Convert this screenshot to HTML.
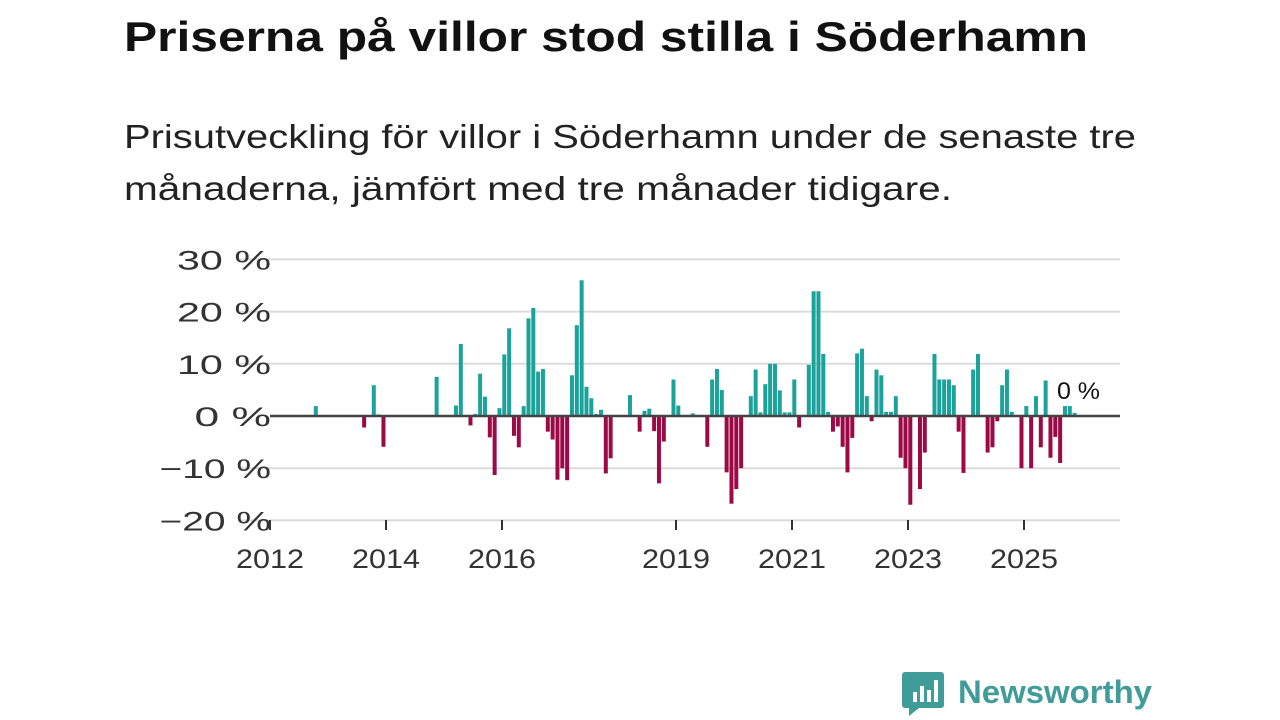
<!DOCTYPE html>
<html><head><meta charset="utf-8"><style>
html,body{margin:0;padding:0;background:#fff;}
svg{display:block;font-family:"Liberation Sans","DejaVu Sans",sans-serif;}
</style></head><body>
<svg id="chart" width="1280" height="720" viewBox="0 0 1280 720" xmlns="http://www.w3.org/2000/svg">
<text x="124" y="51" font-size="42" font-weight="bold" fill="#111" textLength="964" lengthAdjust="spacingAndGlyphs">Priserna på villor stod stilla i Söderhamn</text>
<text x="124" y="148" font-size="33" fill="#222" textLength="1012" lengthAdjust="spacingAndGlyphs">Prisutveckling för villor i Söderhamn under de senaste tre</text>
<text x="124" y="200" font-size="33" fill="#222" textLength="828" lengthAdjust="spacingAndGlyphs">månaderna, jämfört med tre månader tidigare.</text>
<g id="grid"></g>
<g id="bars"></g>
<g id="axes"></g>
<text x="1057" y="399" font-size="24" fill="#111" textLength="43" lengthAdjust="spacingAndGlyphs">0 %</text>
<g>
<path d="M905 672 h36 a3 3 0 0 1 3 3 v30 a3 3 0 0 1 -3 3 h-22 l-10 8 v-8 h-4 a3 3 0 0 1 -3 -3 v-30 a3 3 0 0 1 3 -3z" fill="#3f9c98"/>
<rect x="913" y="692" width="4" height="10" fill="#fff"/><rect x="920" y="686" width="4" height="16" fill="#fff"/><rect x="927" y="690" width="4" height="12" fill="#fff"/><rect x="934" y="680" width="4" height="22" fill="#fff"/>
<text x="958" y="703" font-size="32" font-weight="bold" fill="#3f9c98" textLength="194" lengthAdjust="spacingAndGlyphs">Newsworthy</text>
</g>
</svg>
<script>
const dates = ["2012-10","2013-08","2013-10","2013-11","2013-12","2014-11","2015-03","2015-04","2015-06","2015-07","2015-08","2015-09","2015-10","2015-11","2015-12",
"2016-01","2016-02","2016-03","2016-04","2016-05","2016-06","2016-07","2016-08","2016-09","2016-10","2016-11","2016-12",
"2017-01","2017-02","2017-03","2017-04","2017-05","2017-06","2017-07","2017-08","2017-09","2017-10","2017-11",
"2018-03","2018-05","2018-06","2018-07","2018-08","2018-09","2018-10","2018-12",
"2019-01","2019-04","2019-07","2019-08","2019-09","2019-10","2019-11","2019-12",
"2020-01","2020-02","2020-04","2020-05","2020-06","2020-07","2020-08","2020-09","2020-10","2020-11","2020-12",
"2021-01","2021-02","2021-04","2021-05","2021-06","2021-07","2021-08","2021-09","2021-10","2021-11","2021-12",
"2022-01","2022-02","2022-03","2022-04","2022-05","2022-06","2022-07","2022-08","2022-09","2022-10","2022-11","2022-12",
"2023-01","2023-03","2023-04","2023-06","2023-07","2023-08","2023-09","2023-10","2023-11","2023-12",
"2024-02","2024-03","2024-05","2024-06","2024-07","2024-08","2024-09","2024-10","2024-12",
"2025-01","2025-02","2025-03","2025-04","2025-05","2025-06","2025-07","2025-08","2025-09","2025-10","2025-11"];
const values = [1.9,-2.2,5.9,0.3,-5.9,7.5,2,13.8,-1.8,0.4,8.1,3.7,-4.1,-11.3,1.5,
11.8,16.8,-3.8,-6,1.9,18.7,20.7,8.5,9,-3,-4.5,-12.2,
-10,-12.3,7.8,17.4,26,5.6,3.4,0.4,1.2,-11,-8.1,
4,-3,1,1.4,-2.9,-12.9,-4.9,7,
2,0.5,-5.9,7,9,5,-10.8,-16.8,
-14,-10,3.8,8.9,0.7,6.1,10,10,4.9,0.7,0.7,
7,-2.2,9.8,23.9,23.9,11.9,0.8,-3,-2,-5.9,-10.8,
-4.2,12,12.9,3.8,-1,8.9,7.8,0.8,0.8,3.8,-8,-10,
-17,-14,-7,11.9,7,7,7,5.9,-3,-10.9,
8.9,11.9,-7,-6,-1,5.9,8.9,0.8,-10,
1.9,-10,3.8,-6,6.8,-8,-4,-9,1.9,1.9,0.6];
const yTicks = [30,20,10,0,-10,-20];
const yTickLabels = ["30 %","20 %","10 %","0 %","\u221210 %","\u221220 %"];
const xTicks = [2012,2014,2016,2019,2021,2023,2025];

const NS="http://www.w3.org/2000/svg";
const X0=270, PXY=58, Y0=416, PXV=5.22;
function xScale(yearFrac){return X0+(yearFrac-2012)*PXY;}
function yScale(v){return Y0-v*PXV;}
function dateToYear(d){const p=d.split("-");return +p[0]+(+p[1]-1)/12;}
function mk(tag,attrs,parent){const e=document.createElementNS(NS,tag);for(const k in attrs)e.setAttribute(k,attrs[k]);parent.appendChild(e);return e;}
const grid=document.getElementById("grid"),bars=document.getElementById("bars"),axes=document.getElementById("axes");
yTicks.forEach((t,i)=>{
  if(t!==0){const l=mk("line",{x1:240,x2:1120,y1:yScale(t),y2:yScale(t),stroke:"#dcdcdc","stroke-width":2},grid);
  
  }
  const lab=yTickLabels[i];
  const w=lab.length*17.5+24;
  const tx=mk("text",{x:271-w,y:yScale(t)+10,"font-size":27,fill:"#333",textLength:w,lengthAdjust:"spacingAndGlyphs"},axes);
  tx.textContent=lab;
  
  
});
dates.forEach((d,i)=>{
  const v=values[i];const cx=xScale(dateToYear(d))+2.3;
  const y1=yScale(Math.max(v,0)),y2=yScale(Math.min(v,0));
  const r=mk("rect",{x:cx-2,y:y1,width:4,height:Math.max(y2-y1,0.5),fill:v>=0?"#1ba39b":"#9c0a46"},bars);
  
  
});
const zl=mk("line",{x1:270,x2:1120,y1:Y0,y2:Y0,stroke:"#444","stroke-width":2.5},axes);


xTicks.forEach(t=>{
  const x=xScale(t);
  const tk=mk("line",{x1:x,x2:x,y1:520,y2:530,stroke:"#333","stroke-width":2},axes);
  
  
  const tx=mk("text",{x:x-34,y:568,"font-size":27,fill:"#333",textLength:68,lengthAdjust:"spacingAndGlyphs"},axes);
  tx.textContent=String(t);
  
  
});
</script>
</body></html>
